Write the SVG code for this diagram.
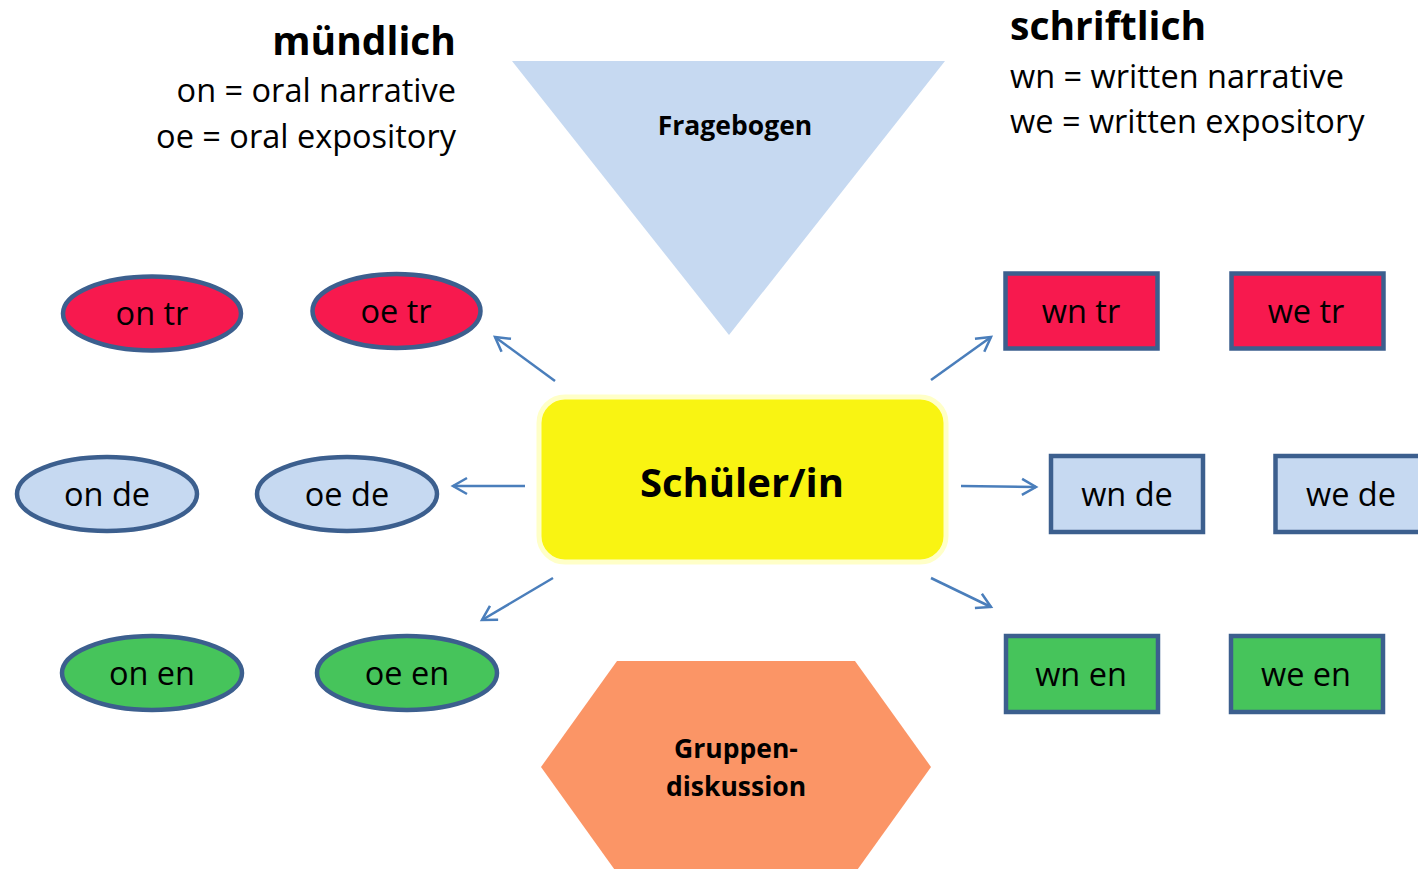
<svg xmlns="http://www.w3.org/2000/svg" width="1418" height="869" viewBox="0 0 1418 869">
<defs>
<marker id="ah" viewBox="0 0 20 20" refX="17" refY="10" markerWidth="20" markerHeight="20" markerUnits="userSpaceOnUse" orient="auto">
<path d="M3,2 L17,10 L3,18" fill="none" stroke="#4a7ebb" stroke-width="2.5"/>
</marker>
</defs>
<style>
text{font-family:"Open Sans","Noto Sans",sans-serif;fill:#000}
.lbl{font-size:32.5px;text-anchor:middle}
.hd{font-size:39px;font-weight:bold}
.sub{font-size:32.5px}
.bd{font-size:26.5px;font-weight:bold;text-anchor:middle}
.red{fill:#f7194e;stroke:#3c5f8e;stroke-width:4.5}
.blu{fill:#c6d9f1;stroke:#3c5f8e;stroke-width:4.5}
.grn{fill:#46c45b;stroke:#3c5f8e;stroke-width:4.5}
.con{stroke:#4a7ebb;stroke-width:2.5;fill:none;marker-end:url(#ah)}
</style>
<rect width="1418" height="869" fill="#fff"/>
<g id="legend-left">
<text class="hd" x="456" y="55" text-anchor="end">mündlich</text>
<text class="sub" x="456" y="102" text-anchor="end">on = oral narrative</text>
<text class="sub" x="456" y="148" text-anchor="end">oe = oral expository</text>
</g>
<g id="legend-right">
<text class="hd" x="1010" y="40">schriftlich</text>
<text class="sub" x="1010" y="88">wn = written narrative</text>
<text class="sub" x="1010" y="133">we = written expository</text>
</g>
<g id="fragebogen">
<polygon points="512,61 945,61 729,335" fill="#c6d9f1"/>
<text class="bd" x="735" y="135">Fragebogen</text>
</g>
<g id="gruppendiskussion">
<polygon points="541,767 617,661 855,661 931,767 855,873 617,873" fill="#fb9566"/>
<text class="bd" x="736" y="758">Gruppen-</text>
<text class="bd" x="736" y="796">diskussion</text>
</g>
<g id="schueler">
<rect x="539" y="397" width="407" height="165" rx="26" fill="#f9f412" stroke="#ffffc8" stroke-width="5"/>
<text x="742" y="497" font-size="40" font-weight="bold" text-anchor="middle">Schüler/in</text>
</g>
<g id="on-tr"><ellipse class="red" cx="152" cy="313.5" rx="89" ry="37"/><text class="lbl" x="152" y="325">on tr</text></g>
<g id="oe-tr"><ellipse class="red" cx="396.5" cy="311" rx="84" ry="37"/><text class="lbl" x="396" y="323">oe tr</text></g>
<g id="on-de"><ellipse class="blu" cx="107" cy="494" rx="90" ry="37"/><text class="lbl" x="107" y="506">on de</text></g>
<g id="oe-de"><ellipse class="blu" cx="347" cy="494" rx="90" ry="37"/><text class="lbl" x="347" y="506">oe de</text></g>
<g id="on-en"><ellipse class="grn" cx="152" cy="673" rx="90" ry="37"/><text class="lbl" x="152" y="685">on en</text></g>
<g id="oe-en"><ellipse class="grn" cx="407" cy="673" rx="90" ry="37"/><text class="lbl" x="407" y="685">oe en</text></g>
<g id="wn-tr"><rect class="red" x="1005.5" y="273.5" width="152" height="75"/><text class="lbl" x="1081" y="323">wn tr</text></g>
<g id="we-tr"><rect class="red" x="1231.5" y="273.5" width="152" height="75"/><text class="lbl" x="1306" y="323">we tr</text></g>
<g id="wn-de"><rect class="blu" x="1051" y="456" width="152" height="76"/><text class="lbl" x="1127" y="506">wn de</text></g>
<g id="we-de"><rect class="blu" x="1275.5" y="456" width="152" height="76"/><text class="lbl" x="1351" y="506">we de</text></g>
<g id="wn-en"><rect class="grn" x="1006" y="636" width="152" height="76"/><text class="lbl" x="1081" y="686">wn en</text></g>
<g id="we-en"><rect class="grn" x="1231" y="636" width="152" height="76"/><text class="lbl" x="1306" y="686">we en</text></g>
<g id="connectors">
<line class="con" x1="555" y1="381" x2="495" y2="337"/>
<line class="con" x1="525" y1="486" x2="453" y2="486"/>
<line class="con" x1="553" y1="578" x2="482" y2="620"/>
<line class="con" x1="931" y1="380" x2="991" y2="337"/>
<line class="con" x1="961" y1="486" x2="1036" y2="487"/>
<line class="con" x1="931" y1="578" x2="991" y2="607"/>
</g>
</svg>
